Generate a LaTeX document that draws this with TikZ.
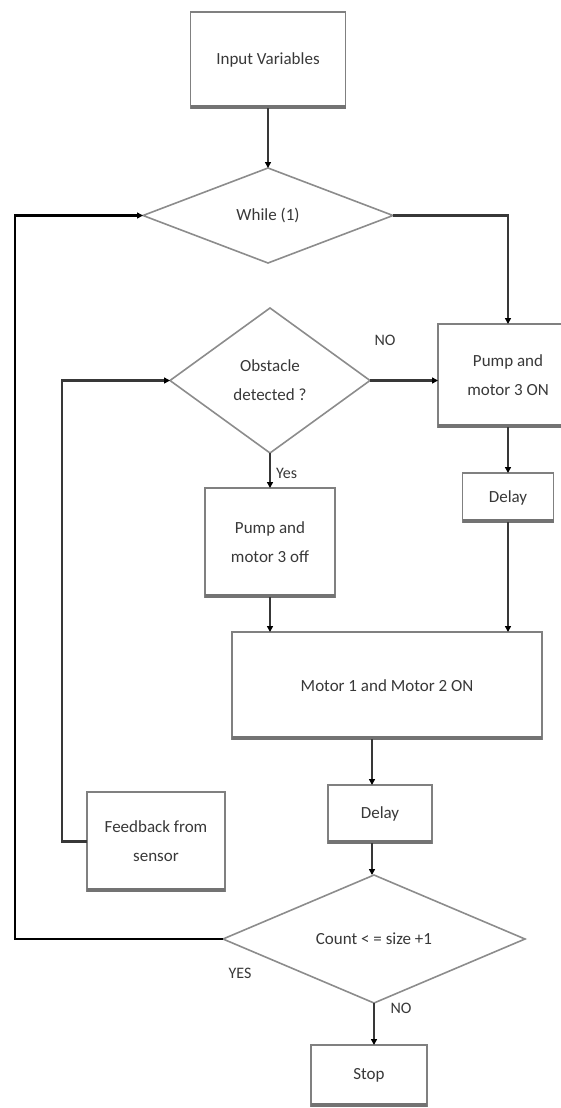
\documentclass[tikz,border=0pt]{standalone}
\usepackage{fontspec}
\setmainfont{Carlito}
\usetikzlibrary{shapes.geometric,arrows.meta}
\begin{document}
\begin{tikzpicture}[x=1pt,y=-1pt,
  every node/.style={font=\fontsize{17}{29}\selectfont, text=black!78},
  box/.style={draw=black!50, line width=1.8pt, rectangle, inner sep=0pt, outer sep=0pt, align=center},
  dia/.style={draw=black!45, line width=1.6pt, diamond, inner sep=0pt, outer sep=0pt, align=center},
  conn/.style={draw=black!78, line width=2.6pt},
  arr/.style={conn, -{Triangle[length=6pt,width=6pt,color=black]}},
  loopline/.style={draw=black, line width=2.6pt, -{Triangle[length=6pt,width=6pt,color=black]}},
  shadowline/.style={draw=black!55, line width=3.5pt},
  lbl/.style={font=\fontsize{16}{18}\selectfont, inner sep=0pt}
]
\useasboundingbox (0,0) rectangle (561,1108);

% nodes
\node[box, minimum width=155pt, minimum height=96pt] (inp) at (268,60) {Input Variables};
\node[dia, minimum width=250pt, minimum height=95pt] (whl) at (268,215.5) {While (1)};
\node[dia, minimum width=200pt, minimum height=145pt] (obs) at (270,380.5) {Obstacle\\detected ?};
\node[box, minimum width=140pt, minimum height=103pt] (pon) at (508,375.5) {Pump and\\motor 3 ON};
\node[box, minimum width=91pt, minimum height=49pt] (d1) at (508,497.5) {Delay};
\node[box, minimum width=130pt, minimum height=109pt] (poff) at (270,542.5) {Pump and\\motor 3 off};
\node[box, minimum width=310pt, minimum height=107pt] (mot) at (387,685.5) {Motor 1 and Motor 2 ON};
\node[box, minimum width=104pt, minimum height=58pt] (d2) at (380,814) {Delay};
\node[box, minimum width=138pt, minimum height=99pt] (fb) at (156,841.5) {Feedback from\\sensor};
\node[dia, minimum width=302pt, minimum height=116pt] (cnt) at (374,939) {Count < = size +1};
\node[box, minimum width=116pt, minimum height=61pt] (stop) at (369,1075.5) {Stop};

% bottom shadows of boxes
\foreach \n in {inp,pon,d1,poff,mot,d2,fb,stop}
  \draw[shadowline] ([yshift=1pt]\n.south west) -- ([yshift=1pt]\n.south east);

% labels
\node[lbl] (lno1) at (385,340) {NO};
\node[lbl, anchor=west] (lyes1) at (276,473) {Yes};
\node[lbl] (lyes2) at (240,973) {YES};
\node[lbl] (lno2) at (401,1008) {NO};

% helper coordinates
\coordinate (L) at (15,0);
\coordinate (F) at (62,0);
\coordinate (C2) at (372,0);

% connectors
\draw[arr] (inp.south) -- (whl.north);
\draw[arr] (whl.east) -| (pon.north);
\draw[arr] (obs.east) -- (obs.east -| pon.west);
\draw[arr] (obs.south) -- (obs.south |- poff.north);
\draw[arr] (pon.south) -- (d1.north);
\draw[arr] (d1.south) -- (d1.south |- mot.north);
\draw[arr] (poff.south) -- (poff.south |- mot.north);
\draw[arr] (C2 |- mot.south) -- (C2 |- d2.north);
\draw[arr] (C2 |- d2.south) -- (C2 |- cnt.north);
\draw[arr] (cnt.south) -- (cnt.south |- stop.north);
\draw[loopline] (cnt.west) -- (cnt.west -| L) -- (L |- whl.west) -- (whl.west);
\draw[arr] (fb.west) -- (fb.west -| F) -- (F |- obs.west) -- (obs.west);
\end{tikzpicture}
\end{document}
